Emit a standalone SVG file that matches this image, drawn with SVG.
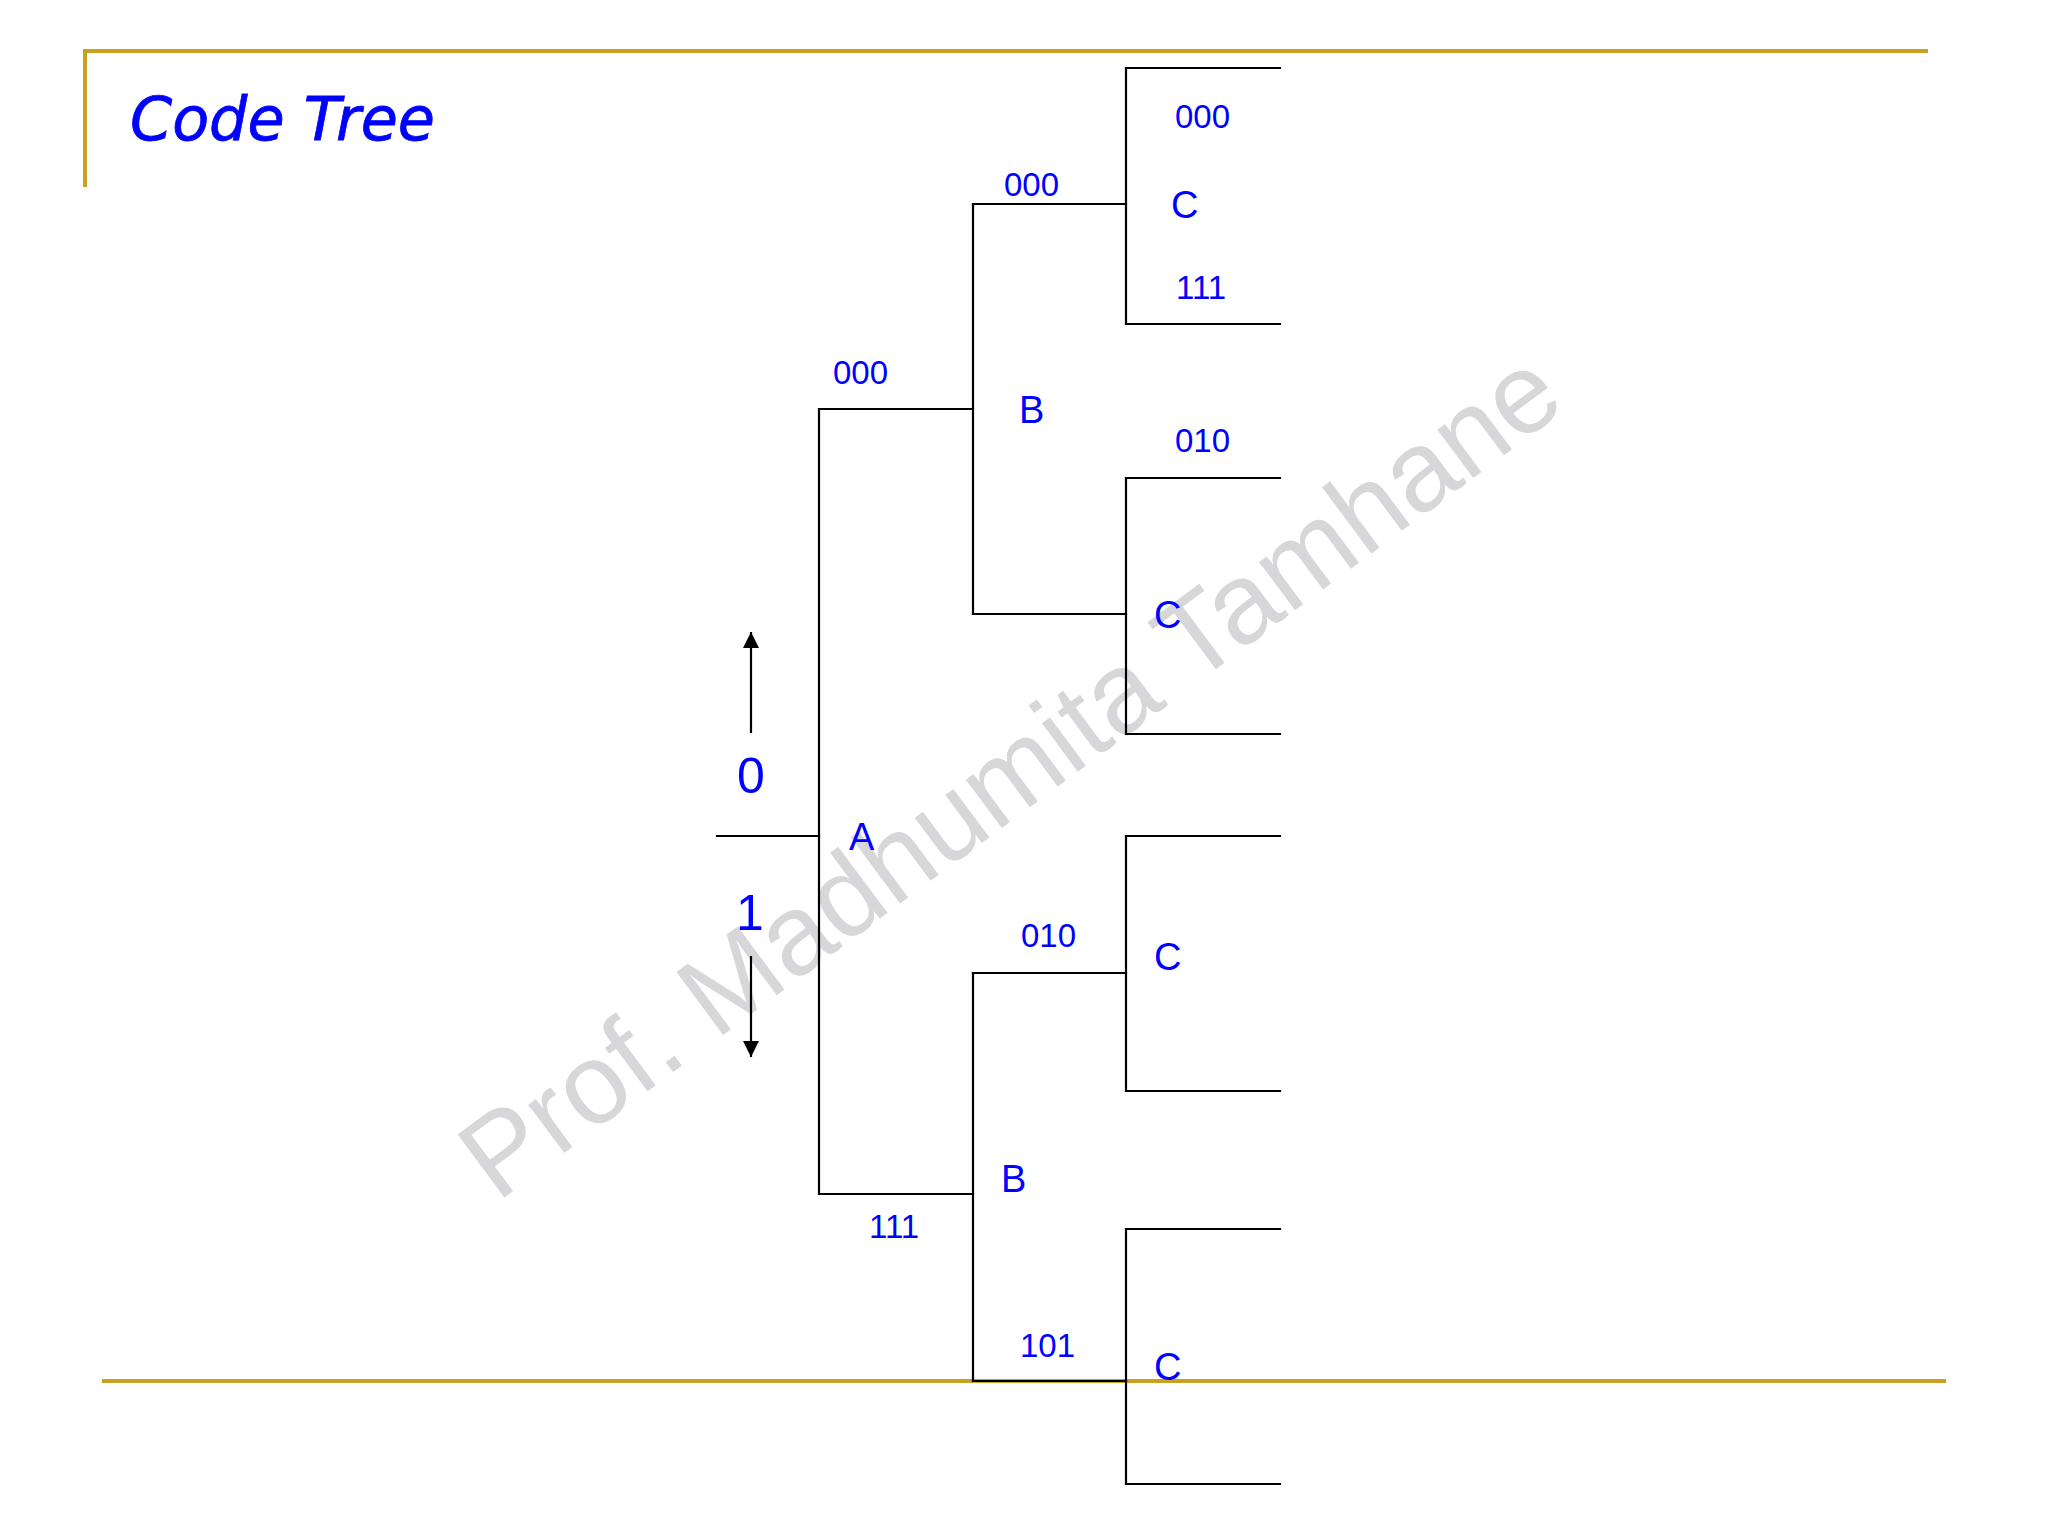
<svg xmlns="http://www.w3.org/2000/svg" width="2048" height="1536" viewBox="0 0 2048 1536">
  <defs>
    <style>
      .frame { stroke: #C9A020; stroke-width: 4; fill: none; }
      .edge { stroke: #000; stroke-width: 2.2; fill: none; stroke-linecap: square; }
      .arrow { stroke: #000; stroke-width: 2.2; fill: none; }
      .lbl { font-family: "Liberation Sans", Arial, sans-serif; fill: #0000FF; font-size: 33px; }
      .node { font-family: "Liberation Sans", Arial, sans-serif; fill: #0000FF; font-size: 38px; }
      .bit { font-family: "Liberation Sans", Arial, sans-serif; fill: #0000FF; font-size: 50px; }
      .title { font-family: "DejaVu Sans", sans-serif; font-style: italic; fill: #0000FF; stroke: #0000FF; stroke-width: 0.8; font-size: 60px; }
      .wm { font-family: "Liberation Sans", Arial, sans-serif; fill: #d7d7da; font-size: 114px; }
    </style>
    <marker id="ah" viewBox="0 0 16 16" refX="16" refY="8" markerWidth="16" markerHeight="16" markerUnits="userSpaceOnUse" orient="auto">
      <path d="M0,0 L16,8 L0,16 z" fill="#000"/>
    </marker>
  </defs>
  <rect width="2048" height="1536" fill="#ffffff"/>

  <!-- watermark -->
  <text class="wm" transform="translate(497,1203) rotate(-36.6)">Prof. Madhumita Tamhane</text>

  <!-- frame -->
  <g id="frame">
    <line class="frame" x1="84" y1="51" x2="1928" y2="51"/>
    <line class="frame" x1="85" y1="49" x2="85" y2="187"/>
    <line class="frame" x1="102" y1="1381" x2="1946" y2="1381"/>
  </g>

  <text class="title" x="130" y="140" textLength="305" lengthAdjust="spacingAndGlyphs">Code Tree</text>

  <!-- connectors -->
  <g id="connectors">
    <line class="edge" x1="717" y1="836" x2="819" y2="836"/>
    <line class="edge" x1="819" y1="409" x2="819" y2="1194"/>
    <!-- upper B -->
    <line class="edge" x1="819" y1="409" x2="973" y2="409"/>
    <line class="edge" x1="973" y1="204" x2="973" y2="614"/>
    <line class="edge" x1="973" y1="204" x2="1126" y2="204"/>
    <line class="edge" x1="973" y1="614" x2="1126" y2="614"/>
    <!-- C1 -->
    <line class="edge" x1="1126" y1="68" x2="1126" y2="324"/>
    <line class="edge" x1="1126" y1="68" x2="1280" y2="68"/>
    <line class="edge" x1="1126" y1="324" x2="1280" y2="324"/>
    <!-- C2 -->
    <line class="edge" x1="1126" y1="478" x2="1126" y2="734"/>
    <line class="edge" x1="1126" y1="478" x2="1280" y2="478"/>
    <line class="edge" x1="1126" y1="734" x2="1280" y2="734"/>
    <!-- lower B -->
    <line class="edge" x1="819" y1="1194" x2="973" y2="1194"/>
    <line class="edge" x1="973" y1="973" x2="973" y2="1381"/>
    <line class="edge" x1="973" y1="973" x2="1126" y2="973"/>
    <line class="edge" x1="973" y1="1381" x2="1126" y2="1381"/>
    <!-- C3 -->
    <line class="edge" x1="1126" y1="836" x2="1126" y2="1091"/>
    <line class="edge" x1="1126" y1="836" x2="1280" y2="836"/>
    <line class="edge" x1="1126" y1="1091" x2="1280" y2="1091"/>
    <!-- C4 -->
    <line class="edge" x1="1126" y1="1229" x2="1126" y2="1484"/>
    <line class="edge" x1="1126" y1="1229" x2="1280" y2="1229"/>
    <line class="edge" x1="1126" y1="1484" x2="1280" y2="1484"/>
    <!-- direction arrows -->
    <line class="arrow" x1="751" y1="733" x2="751" y2="632" marker-end="url(#ah)"/>
    <line class="arrow" x1="751" y1="956" x2="751" y2="1057" marker-end="url(#ah)"/>
  </g>

  <!-- edge labels -->
  <g id="edge-labels">
    <text class="lbl" x="1175" y="128">000</text>
    <text class="lbl" x="1176" y="299">111</text>
    <text class="lbl" x="1004" y="196">000</text>
    <text class="lbl" x="833" y="384">000</text>
    <text class="lbl" x="1175" y="452">010</text>
    <text class="lbl" x="1021" y="947">010</text>
    <text class="lbl" x="869" y="1238">111</text>
    <text class="lbl" x="1020" y="1357">101</text>
    <text class="bit" x="737" y="793">0</text>
    <text class="bit" x="736" y="930">1</text>
  </g>

  <g id="node-A"><text class="node" x="849" y="850">A</text></g>
  <g id="node-B1"><text class="node" x="1019" y="423">B</text></g>
  <g id="node-B2"><text class="node" x="1001" y="1192">B</text></g>
  <g id="node-C1"><text class="node" x="1171" y="218">C</text></g>
  <g id="node-C2"><text class="node" x="1154" y="628">C</text></g>
  <g id="node-C3"><text class="node" x="1154" y="970">C</text></g>
  <g id="node-C4"><text class="node" x="1154" y="1380">C</text></g>
</svg>
